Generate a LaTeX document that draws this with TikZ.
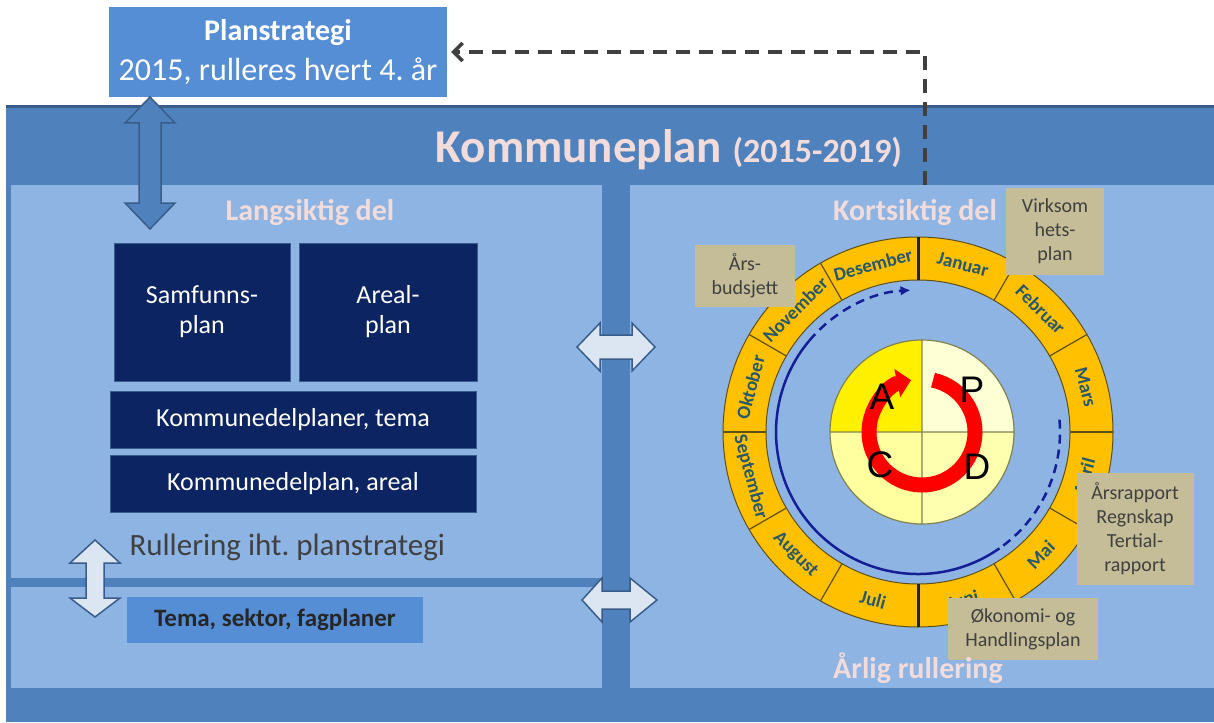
\documentclass[tikz,border=0pt]{standalone}
\usepackage{fontspec}
\setmainfont{Carlito}
\newfontfamily\pdcafont{Liberation Sans}
\usetikzlibrary{arrows.meta,positioning}
\frenchspacing
\definecolor{outerblue}{RGB}{79,129,189}
\definecolor{edgeblue}{RGB}{56,93,138}
\definecolor{panelblue}{RGB}{142,180,227}
\definecolor{midblue}{RGB}{85,142,213}
\definecolor{navyblue}{RGB}{12,36,97}
\definecolor{paleblue}{RGB}{220,230,242}
\definecolor{pinkwhite}{RGB}{242,220,219}
\definecolor{ringyellow}{RGB}{255,192,0}
\definecolor{ringedge}{RGB}{96,80,20}
\definecolor{monthtext}{RGB}{40,88,108}
\definecolor{loopblue}{RGB}{20,30,150}
\definecolor{tanbg}{RGB}{196,189,151}
\definecolor{darkgray}{RGB}{64,64,64}
\definecolor{quadA}{RGB}{255,240,0}
\definecolor{quadP}{RGB}{255,255,214}
\definecolor{quadC}{RGB}{255,255,160}
\definecolor{quadD}{RGB}{255,255,176}
\definecolor{quadedge}{RGB}{130,130,80}

\tikzset{
  navybox/.style={fill=navyblue, draw=edgeblue, line width=1, text=white,
    align=center, inner sep=0, font=\fontsize{26}{30}\selectfont},
  tanbox/.style={fill=tanbg, text=darkgray, align=center, inner sep=0,
    font=\fontsize{20}{24}\selectfont},
  blockarrow/.style={fill=outerblue, draw=edgeblue, line width=1.5, line join=miter},
  lightarrow/.style={fill=paleblue, draw=edgeblue, line width=1.5, line join=miter},
  heading/.style={text=pinkwhite, font=\bfseries\fontsize{30}{34}\selectfont},
  month/.style={text=monthtext, font=\bfseries\fontsize{19}{22}\selectfont, inner sep=0},
  pdca/.style={font=\pdcafont\fontsize{37}{40}\selectfont, inner sep=0}
}

\begin{document}
\begin{tikzpicture}[x=1pt,y=-1pt]
  \useasboundingbox (0,0) rectangle (1214,722);
  % Frame of the plan
  \fill[outerblue] (6,105) rectangle (1214,722);
  \fill[edgeblue] (6,105) rectangle (1214,108);
  \fill[panelblue] (11,185) rectangle (602,688);
  \fill[panelblue] (630,185) rectangle (1214,688);
  \fill[outerblue] (11,578) rectangle (602,587);
  % Title
  \node[text=pinkwhite, font=\bfseries\fontsize{47}{52}\selectfont] (title) at (669,150)
    {Kommuneplan {\fontsize{34}{38}\selectfont(2015-2019)}};
  % Planstrategi
  \node[fill=midblue, text=white, minimum width=338, minimum height=90, align=center,
    inner sep=0, font=\fontsize{32}{40}\selectfont] (plan) at (278,52)
    {{\bfseries\fontsize{30}{40}\selectfont Planstrategi}\\2015, rulleres hvert 4. år};
  \coordinate (kortstart) at (925,185);
  \draw[darkgray, line width=3.5, dash pattern=on 14pt off 9pt,
    -{Straight Barb[length=9pt,width=18pt]}, shorten >=4pt] (kortstart) |- (plan.east);
  % Block arrows
  \coordinate (planarrow) at (150,97);
  \draw[blockarrow] (planarrow) -- ++(25,26) -- ++(-14,0) -- ++(0,80) -- ++(14,0)
    -- ++(-25,26) -- ++(-25,-26) -- ++(14,0) -- ++(0,-80) -- ++(-14,0) -- cycle;
  \coordinate (rullarrow) at (95,540);
  \draw[lightarrow] (rullarrow) -- ++(25,23) -- ++(-16,0) -- ++(0,35) -- ++(16,0)
    -- ++(-25,19) -- ++(-25,-19) -- ++(16,0) -- ++(0,-35) -- ++(-16,0) -- cycle;
  \coordinate (midarrow) at (577,347);
  \draw[lightarrow] (midarrow) -- ++(23,-24) -- ++(0,12) -- ++(32,0) -- ++(0,-12)
    -- ++(23,24) -- ++(-23,24) -- ++(0,-12) -- ++(-32,0) -- ++(0,12) -- cycle;
  \coordinate (lowarrow) at (582,600);
  \draw[lightarrow] (lowarrow) -- ++(20,-22) -- ++(0,13) -- ++(28,0) -- ++(0,-13)
    -- ++(27,22) -- ++(-27,22) -- ++(0,-13) -- ++(-28,0) -- ++(0,13) -- cycle;
  % Langsiktig del
  \node[heading] (langsiktig) at (310,212) {Langsiktig del};
  \node[navybox, minimum width=176, minimum height=138] (samfunn) at (202,312) {Samfunns-\\plan};
  \node[navybox, minimum width=178, minimum height=138] (areal) at (388,312) {Areal-\\plan};
  \node[navybox, minimum width=366, minimum height=57] (deltema) at (293,420) {Kommunedelplaner, tema};
  \node[navybox, minimum width=366, minimum height=57] (delareal) at (293,484) {Kommunedelplan, areal};
  \node[text=darkgray, font=\fontsize{31}{36}\selectfont, anchor=west] (rullering) at (126,547)
    {Rullering iht. planstrategi};
  \node[fill=midblue, text=black!85, minimum width=296, minimum height=46, inner sep=0,
    font=\bfseries\fontsize{25}{30}\selectfont] (fagplaner) at (275,620) {Tema, sektor, fagplaner};
  % Kortsiktig del: the year wheel
  \node[heading] (kortsiktig) at (915,212) {Kortsiktig del};
  \begin{scope}[shift={(918,432)}, y=1pt]
    \fill[ringyellow] (0,0) circle (195);
    \fill[panelblue] (0,0) circle (152);
    \draw[ringedge, line width=1] (0,0) circle (195) (0,0) circle (152);
    \foreach \a in {0,30,60,120,150,180,210,240,300,330}
      \draw[ringedge, line width=1.2] (\a:152) -- (\a:195);
    \foreach \a in {90,270}
      \draw[navyblue, line width=3] (\a:152) -- (\a:195);
    \foreach \a/\r/\m in {75/-15/Januar, 45/-45/Februar, 15/-75/Mars, -15/75/April,
        -45/45/Mai, -75/15/Juni, -105/-15/Juli, -135/-45/August, -165/-75/September,
        165/75/Oktober, 135/45/November, 105/15/Desember}
      \node[month, rotate=\r] (m\m) at (\a:173.5) {\m};
    % Rolling loop
    \draw[loopblue, line width=2.5, dash pattern=on 9pt off 6pt] (5:142) arc[start angle=5, end angle=-55, radius=142];
    \draw[loopblue, line width=2.5] (-55:142) arc[start angle=-55, end angle=-220, radius=142];
    \draw[loopblue, line width=2.5, dash pattern=on 9pt off 6pt, -{Latex[length=10pt,width=10pt]}]
      (140:142) arc[start angle=140, end angle=93, radius=142];
    % PDCA
    \begin{scope}[shift={(4,0)}]
      \fill[quadA] (0,0) -- (90:92) arc[start angle=90, end angle=180, radius=92] -- cycle;
      \fill[quadP] (0,0) -- (0:92) arc[start angle=0, end angle=90, radius=92] -- cycle;
      \fill[quadC] (0,0) -- (180:92) arc[start angle=180, end angle=270, radius=92] -- cycle;
      \fill[quadD] (0,0) -- (270:92) arc[start angle=270, end angle=360, radius=92] -- cycle;
      \draw[quadedge, line width=1.2] (0,0) circle (92) (-92,0) -- (92,0) (0,-92) -- (0,92);
      \draw[red, line width=15, -{Triangle[width=28pt,length=14pt]}]
        (78:53) arc[start angle=78, end angle=-258, radius=53];
      \node[pdca] (plan-a) at (-40,35) {A};
      \node[pdca] (plan-p) at (50,42) {P};
      \node[pdca] (plan-c) at (-42,-33) {C};
      \node[pdca] (plan-d) at (55,-35) {D};
    \end{scope}
  \end{scope}
  % Notes round the wheel
  \node[tanbox, minimum width=100, minimum height=62] (budsjett) at (745,276) {Års-\\budsjett};
  \node[tanbox, minimum width=98, minimum height=87] (virksomhet) at (1055,231) {Virksom\\hets-\\plan};
  \node[tanbox, minimum width=117, minimum height=112] (arsrapport) at (1135,529)
    {Årsrapport\\Regnskap\\Tertial-\\rapport};
  \node[tanbox, minimum width=150, minimum height=62] (okonomi) at (1023,629) {Økonomi- og\\Handlingsplan};
  \node[heading] (arlig) at (918,668) {Årlig rullering};
\end{tikzpicture}
\end{document}
